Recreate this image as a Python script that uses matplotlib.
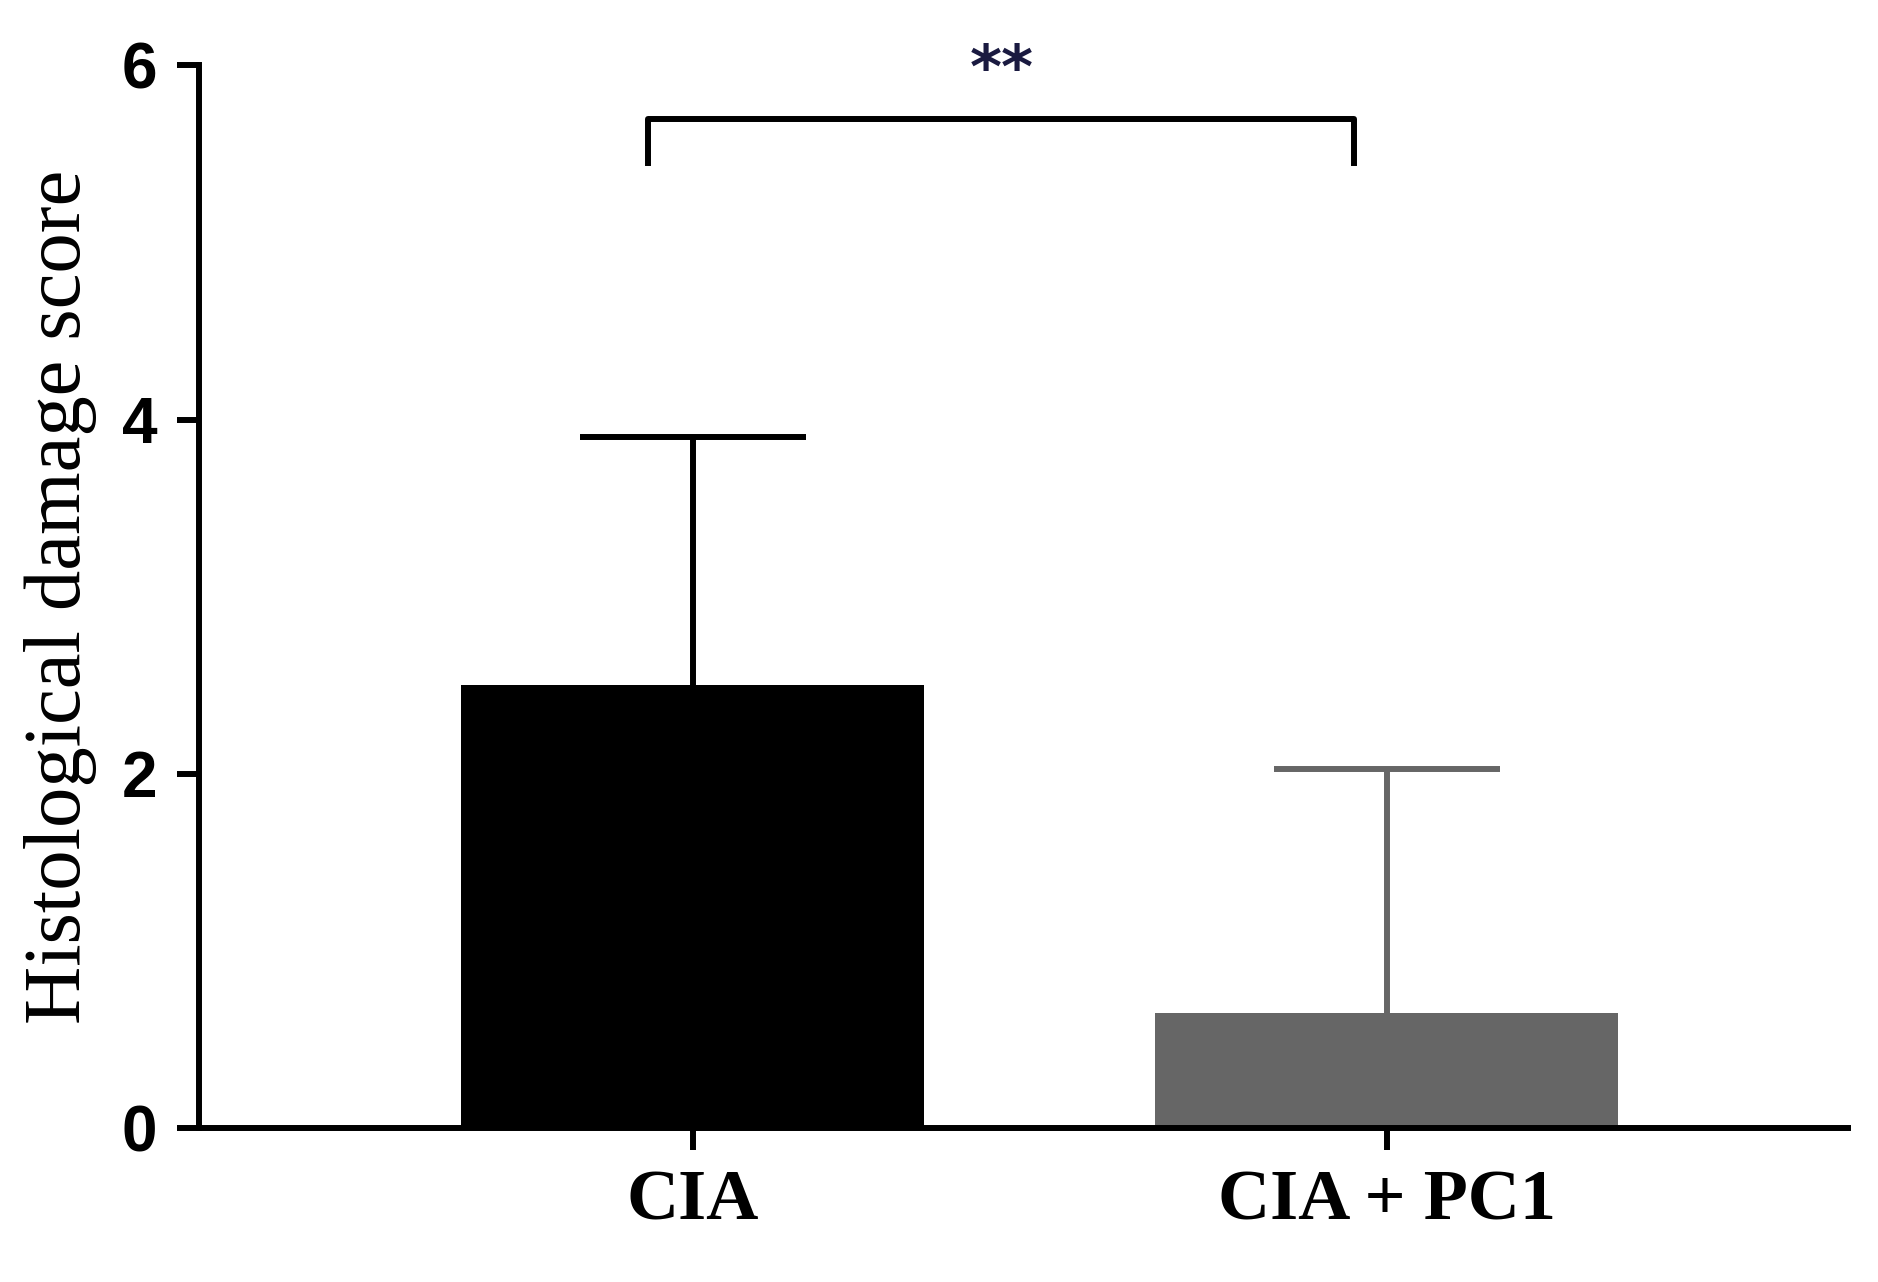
import numpy as np
import matplotlib.pyplot as plt

groups = ['CIA', 'CIA + PC1']
means = [2.5, 0.65]
sds = [1.4, 1.38]
colors = ['#000000', '#666666']
yticks = [0, 2, 4, 6]

fig = plt.figure(figsize=(18.78, 12.82), dpi=100)
ax = fig.add_axes([0.106, 0.12, 0.878, 0.829])

x = np.arange(len(groups))
cap = 0.163
for i in range(len(groups)):
    ax.bar(x[i], means[i], width=0.667, color=colors[i], zorder=2)
    top = means[i] + sds[i]
    ax.vlines(x[i], means[i], top, color=colors[i], lw=4.3, zorder=1)
    ax.hlines(top, x[i] - cap, x[i] + cap, color=colors[i], lw=4.3, zorder=1)

ax.set_xlim(-0.711, 1.664)
ax.set_ylim(0, 6)
ax.set_xticks(x)
ax.set_xticklabels(groups, fontfamily='Liberation Serif', fontweight='bold', fontsize=52)
ax.set_yticks(yticks)
ax.set_yticklabels([str(t) for t in yticks], fontfamily='Liberation Sans',
                   fontweight='bold', fontsize=46)
ax.set_ylabel('Histological damage score', fontfamily='Liberation Serif',
              fontsize=58, labelpad=18)
ax.tick_params(width=4.3, length=16, pad=14)
for s in ['top', 'right']:
    ax.spines[s].set_visible(False)
for s in ['left', 'bottom']:
    ax.spines[s].set_linewidth(4.3)

# significance bracket
xb0, xb1 = -0.064, 0.953
ax.plot([xb0, xb0, xb1, xb1], [5.45, 5.7, 5.7, 5.45], color='black',
        lw=4.3, clip_on=False)
ax.text((xb0 + xb1) / 2, 5.8, '**', ha='center', va='bottom', fontsize=44,
        fontweight='bold', color='#1a1a40')

fig.savefig('out.png', dpi=100)
